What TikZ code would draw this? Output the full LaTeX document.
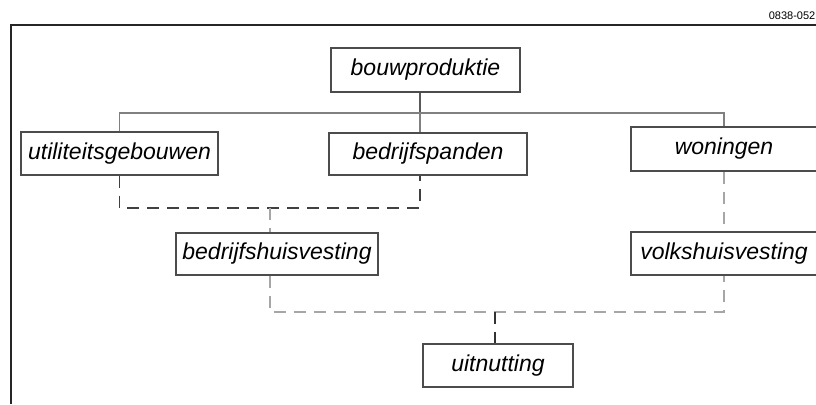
\documentclass[tikz,border=0pt]{standalone}
\usepackage{fontspec}
\setmainfont{Liberation Sans}
\tikzset{
  blok/.style={draw=black!70, line width=1.2pt, inner sep=0pt,
    minimum height=43pt, font=\fontsize{23}{26}\selectfont\itshape},
  tak/.style={draw=black!50, line width=1.2pt},
  stip/.style={line width=1.5pt, dash pattern=on 12pt off 8pt},
}

\begin{document}
\begin{tikzpicture}[x=1pt,y=-1pt]
  \useasboundingbox (0,0) rectangle (816,404);
  % frame and number
  \draw[line width=2.5pt, black!85] (816,25) -| (11,404);
  \node[anchor=base east, inner sep=0pt, font=\fontsize{11}{12}\selectfont] (nummer) at (815.5,19.5) {0838-052};

  \node[blok, minimum width=189pt, minimum height=44pt] (bouw) at (425.5,70) {bouwproduktie};
  \node[blok, minimum width=197pt] (util) at (119.5,153.5) {utiliteitsgebouwen};
  \node[blok, minimum width=198pt, minimum height=42pt] (bedr) at (428,154) {bedrijfspanden};
  \node[blok, minimum width=186pt, minimum height=44pt] (won) at (724,149) {woningen\hspace{14pt}};
  \node[blok, minimum width=202pt, minimum height=42pt] (bhv) at (277,254) {bedrijfshuisvesting};
  \node[blok, minimum width=186pt] (volks) at (724,253.5) {volkshuisvesting};
  \node[blok, minimum width=150pt] (uit) at (498,365.5) {uitnutting\hspace{8pt}};

  \coordinate (bus) at (420,113);
  \coordinate (boven) at (270,208);
  \coordinate (onder) at (495,312);

  % solid tree
  \draw[tak, draw=black!65] (bouw.south -| bus) -- (bus);
  \draw[tak] (util.north) |- (bus) -| (won.north);
  \draw[tak] (bedr.north -| bus) -- (bus);
  % dashed links
  \draw[stip, black!75] (util.south) |- (boven) -| (bedr.south -| bus);
  \draw[stip, black!35] (boven) -- (bhv.north -| boven);
  \draw[stip, black!35] (won.south) -- (volks.north);
  \draw[stip, black!35] (bhv.south -| boven) |- (onder) -| (volks.south);
  \draw[stip, black!80] (onder) -- (uit.north -| onder);
\end{tikzpicture}
\end{document}
